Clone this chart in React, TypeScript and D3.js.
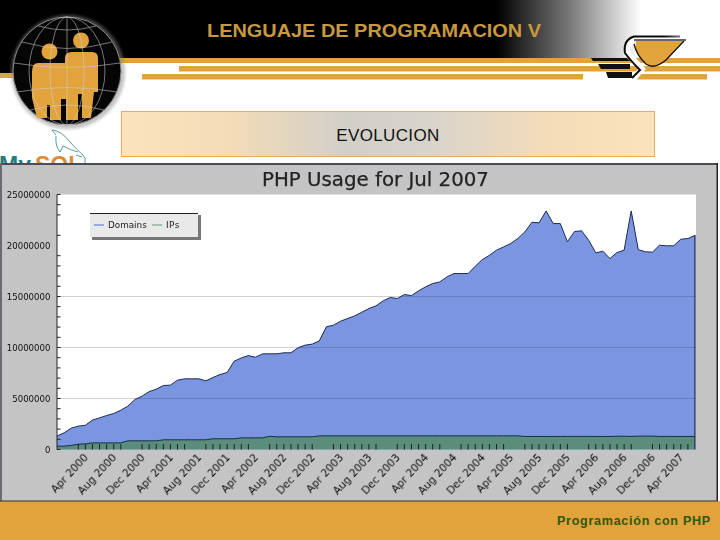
import React from "react";
import * as d3 from "d3";

const monthIndex = d3.range(0, 91);
// Domains in millions, Jan 2000 .. Jul 2007
const domains = [1.31,1.63,2.09,2.29,2.38,2.88,3.1,3.33,3.53,3.85,4.25,4.9,5.23,5.68,5.91,6.27,6.31,6.8,6.93,6.93,6.93,6.73,7.06,7.35,7.55,8.66,8.98,9.21,9.05,9.38,9.38,9.38,9.48,9.48,9.97,10.23,10.33,10.65,12.03,12.19,12.58,12.84,13.1,13.46,13.82,14.08,14.57,14.9,14.8,15.19,15.09,15.55,15.95,16.27,16.43,16.92,17.25,17.25,17.25,17.97,18.62,19.04,19.54,19.86,20.19,20.68,21.33,22.28,22.22,23.39,22.15,22.15,20.36,21.37,21.44,20.52,19.28,19.44,18.72,19.31,19.54,23.39,19.6,19.38,19.35,20.03,19.97,19.97,20.62,20.68,21.0];
const ips = [0.33,0.33,0.4,0.52,0.55,0.65,0.65,0.65,0.65,0.65,0.85,0.85,0.85,0.85,0.85,0.95,0.95,0.95,0.95,0.95,0.95,0.95,1.05,1.05,1.05,1.05,1.14,1.14,1.14,1.14,1.3,1.24,1.24,1.24,1.24,1.24,1.24,1.34,1.34,1.34,1.34,1.34,1.34,1.34,1.34,1.34,1.34,1.34,1.34,1.34,1.34,1.34,1.34,1.34,1.34,1.34,1.34,1.34,1.34,1.34,1.34,1.34,1.34,1.34,1.34,1.34,1.28,1.28,1.28,1.28,1.28,1.28,1.28,1.28,1.28,1.28,1.28,1.28,1.28,1.3,1.3,1.28,1.31,1.31,1.31,1.28,1.28,1.28,1.28,1.28,1.28];
const xLabels = ["Apr 2000","Aug 2000","Dec 2000","Apr 2001","Aug 2001","Dec 2001","Apr 2002","Aug 2002","Dec 2002","Apr 2003","Aug 2003","Dec 2003","Apr 2004","Aug 2004","Dec 2004","Apr 2005","Aug 2005","Dec 2005","Apr 2006","Aug 2006","Dec 2006","Apr 2007"];
const yMajor = [0, 5, 10, 15, 20, 25];
const yLabels = ["0","5000000","10000000","15000000","20000000","25000000"];
const gridValues = [5, 10, 15];
const yMinor = [0,1,2,3,4,5,6,7,8,9,10,11,12,13,14,15,16,17,18,19,21,23,24,25];
const seriesNames = ["Domains", "IPs"];

const x = d3.scaleLinear().domain([0, 90]).range([57, 695]);
const y = d3.scaleLinear().domain([0, 25]).range([449.5, 194.5]);
const areaFor = (vals: number[]) =>
  d3.area<number>().x((i) => x(i)).y0(y(0)).y1((i) => y(vals[i]))(monthIndex)!;
const lineFor = (vals: number[]) =>
  d3.line<number>().x((i) => x(i)).y((i) => y(vals[i]))(monthIndex)!;
const xTicks = monthIndex.filter((i) => i >= 3 && i % 9 !== 1 && i % 9 !== 2 && i < 90);

const ORANGE = "#e2a23c";
const SANS = "'DejaVu Sans', sans-serif";
const ARIAL = "'Liberation Sans', Arial, sans-serif";

function Globe() {
  return (
    <g>
      <circle cx={68} cy={72} r={57} fill="#8a8a8a" opacity={0.5} filter="url(#glow)" />
      <circle cx={67} cy={71} r={54} fill="#050505" stroke="#8c8c8c" strokeWidth={1} />
      <path d="M32 72 V98 L37 118 H47 V105 H50 V120 H61 V99 H66 V120 H78 V94 H82 V118 H91 L94 92 H98 V58 Q98 52 92 52 H72 Q65 52 65 58 V63 H38 Q32 63 32 72Z" fill={ORANGE} />
      <circle cx={49.5} cy={51.5} r={8} fill={ORANGE} />
      <circle cx={81} cy={40.5} r={8} fill={ORANGE} />
      <g fill="none" stroke="#cfcfcf" strokeWidth={0.8} opacity={0.7}>
        <ellipse cx={67} cy={71} rx={17} ry={54} />
        <ellipse cx={67} cy={71} rx={38} ry={54} />
        <line x1={67} y1={17} x2={67} y2={125} />
        <path d="M22 42 Q67 55 112 42" />
        <path d="M14 63 Q67 72 120 63" />
        <path d="M17 92 Q67 83 117 92" />
        <path d="M30 110 Q67 100 104 110" />
        <path d="M38 26 Q67 34 96 26" />
      </g>
    </g>
  );
}

function MysqlMark() {
  return (
    <g>
      <path d="M52 130 Q62 131 70 142 Q77 150 83 155 L85 158 V165 M56 136 Q55 146 60 152 L63 146 Q70 150 78 152 M52 130 L56 135 M76 155 L82 157" fill="none" stroke="#2d8588" strokeWidth={0.8} />
      <text x={-1} y={173} fontFamily={ARIAL} fontSize={23} fontWeight={700} fill="#1f7f80">My</text>
      <text x={35} y={173} fontFamily={ARIAL} fontSize={23} fontWeight={700} fill="#d98f3a">SQL</text>
    </g>
  );
}

function BirdMark() {
  return (
    <g>
      <rect x={583} y={73} width={54} height={7} fill="#fff" />
      <path d="M591 58 H630 V61 H593Z" fill="#111" />
      <path d="M598 64 H630 V69 H601Z" fill="#111" />
      <path d="M606 72 H632 V78 H608Z" fill="#111" />
      <path d="M634 78 L642 69 Q634 60 628 55 Q625 44 634 40" fill="none" stroke="#fff" strokeWidth={6} />
      <path d="M632 78 L640 70 Q630 60 625 53 Q623 40 634 36.5 H680" fill="none" stroke="url(#birdTop)" strokeWidth={2} />
      <path d="M636 41 H684 L666 60 Q654 70 646 64 Q634 56 636 41Z" fill={ORANGE} />
      <path d="M684 41 L666 60 Q654 70 646 64 Q637 56 634 44" fill="none" stroke="#111" strokeWidth={1.3} />
      <path d="M634 40 H686" stroke="#333" strokeWidth={1.5} />
    </g>
  );
}

export default function App() {
  return (
    <svg width={720} height={540} viewBox="0 0 720 540" style={{ position: "fixed", left: 0, top: 0, display: "block", background: "#fff" }}>
      <defs>
        <linearGradient id="hdr" x1="0" x2="1" y1="0" y2="0">
          <stop offset="0.69" stopColor="#000" />
          <stop offset="0.79" stopColor="#777" />
          <stop offset="0.89" stopColor="#fff" />
        </linearGradient>
        <linearGradient id="birdTop" gradientUnits="userSpaceOnUse" x1="625" x2="690" y1="0" y2="0">
          <stop offset="0.6" stopColor="#0b0b0b" />
          <stop offset="1" stopColor="#bbb" />
        </linearGradient>
        <linearGradient id="box" x1="0" x2="1" y1="0" y2="0">
          <stop offset="0" stopColor="#fbe3bd" />
          <stop offset="0.2" stopColor="#f4dcb8" />
          <stop offset="0.42" stopColor="#d2cfc8" />
          <stop offset="0.58" stopColor="#d8d4cc" />
          <stop offset="0.8" stopColor="#f4dcb8" />
          <stop offset="1" stopColor="#fbe3bd" />
        </linearGradient>
        <filter id="soft" x="-5%" y="-5%" width="110%" height="110%">
          <feGaussianBlur stdDeviation="0.3" />
        </filter>
        <filter id="glow" x="-10%" y="-10%" width="120%" height="120%">
          <feGaussianBlur stdDeviation="1.5" />
        </filter>
        <clipPath id="domainClip">
          <path d={areaFor(domains)} />
        </clipPath>
      </defs>

      {/* Slide header */}
      <rect x={0} y={0} width={720} height={58} fill="url(#hdr)" />
      <rect x={0} y={58} width={120} height={15} fill="#000" />
      <rect x={0} y={73} width={40} height={5} fill={ORANGE} />
      <rect x={120} y={58} width={600} height={5} fill={ORANGE} />
      <rect x={179} y={66} width={541} height={5.5} fill={ORANGE} />
      <rect x={142} y={74} width={565} height={5.5} fill={ORANGE} />
      <text x={207} y={37} fontFamily={ARIAL} fontSize={18} fontWeight={700} fill="#c8983e" textLength={334} lengthAdjust="spacingAndGlyphs">LENGUAJE DE PROGRAMACION V</text>
      <BirdMark />
      <MysqlMark />
      <Globe />

      <rect x={121.5} y={111.5} width={533} height={45} fill="url(#box)" stroke="#e4ad55" />
      <text x={388} y={140.5} textAnchor="middle" fontFamily={ARIAL} fontSize={17} fill="#111" letterSpacing={0.35}>EVOLUCION</text>

      {/* Footer */}
      <rect x={0} y={501} width={720} height={39} fill={ORANGE} />
      <text x={557} y={524.5} fontFamily={ARIAL} fontSize={12.5} fontWeight={700} fill="#2c5a0c" letterSpacing={0.75}>Programación con PHP</text>

      {/* Chart image */}
      <rect x={0} y={163} width={718} height={338} fill="#c4c4c4" />
      <rect x={0} y={163} width={718} height={2} fill="#4b4b5c" />
      <rect x={0} y={163} width={2} height={338} fill="#6a6a70" />
      <rect x={716.5} y={163} width={1.5} height={338} fill="#222" />
      <rect x={0} y={500.5} width={718} height={1} fill="#333" />
      <text x={375.5} y={186} textAnchor="middle" fontFamily={SANS} fontSize={19.8} stroke="#222" strokeWidth={0.25} fill="#222" filter="url(#soft)">PHP Usage for Jul 2007</text>

      <rect x={57} y={194.5} width={639} height={255} fill="#fff" />
      {gridValues.map((v) => (
        <line key={v} x1={57} x2={695} y1={y(v)} y2={y(v)} stroke="#cfcfcf" />
      ))}
      <path d={areaFor(domains)} fill="#7c95e0" />
      <g clipPath="url(#domainClip)">
        {gridValues.map((v) => (
          <line key={v} x1={57} x2={695} y1={y(v)} y2={y(v)} stroke="#5f76bd" strokeOpacity={0.75} />
        ))}
      </g>
      <path d={lineFor(domains)} fill="none" stroke="#1b2a55" strokeWidth={1} />
      <path d={areaFor(ips)} fill="#5b8c7c" />
      <path d={lineFor(ips)} fill="none" stroke="#14304a" strokeWidth={1} />
      <line x1={695} x2={695} y1={y(domains[90])} y2={y(0)} stroke="#10203f" strokeWidth={1.2} />

      {/* Axes */}
      <line x1={57} x2={57} y1={194.5} y2={449.5} stroke="#222" />
      {yMinor.map((v) => (
        <line key={v} x1={57} x2={60.5} y1={y(v)} y2={y(v)} stroke="#222" />
      ))}
      {yMajor.map((v, i) => (
        <text key={v} x={50.5} y={y(v) + 3} textAnchor="end" fontFamily={SANS} fontSize={8.6} fill="#111" filter="url(#soft)">{yLabels[i]}</text>
      ))}
      {xTicks.map((i) => (
        <line key={i} x1={x(i)} x2={x(i)} y1={444} y2={449.5} stroke="#15251f" />
      ))}
      {xLabels.map((t, k) => (
        <text key={t} transform={`translate(${x(3 + k * 4) + 10.5},458) rotate(-47)`} textAnchor="end" fontFamily={SANS} fontSize={10.6} fill="#111" filter="url(#soft)">{t}</text>
      ))}

      {/* Legend */}
      <rect x={92} y={215} width={109} height={25} fill="#777" />
      <rect x={90} y={213} width={108} height={24} fill="#e9e9e9" />
      <rect x={90} y={213} width={108} height={1} fill="#222" />
      <line x1={94} x2={104} y1={225} y2={225} stroke="#7c95e0" strokeWidth={1.5} />
      <text x={108} y={228} fontFamily={SANS} fontSize={8.8} fill="#222" filter="url(#soft)">{seriesNames[0]}</text>
      <line x1={152} x2={162} y1={225} y2={225} stroke="#8fb59c" strokeWidth={1.5} />
      <text x={166} y={228} fontFamily={SANS} fontSize={8.8} fill="#222" letterSpacing={0.5} filter="url(#soft)">{seriesNames[1]}</text>
    </svg>
  );
}
